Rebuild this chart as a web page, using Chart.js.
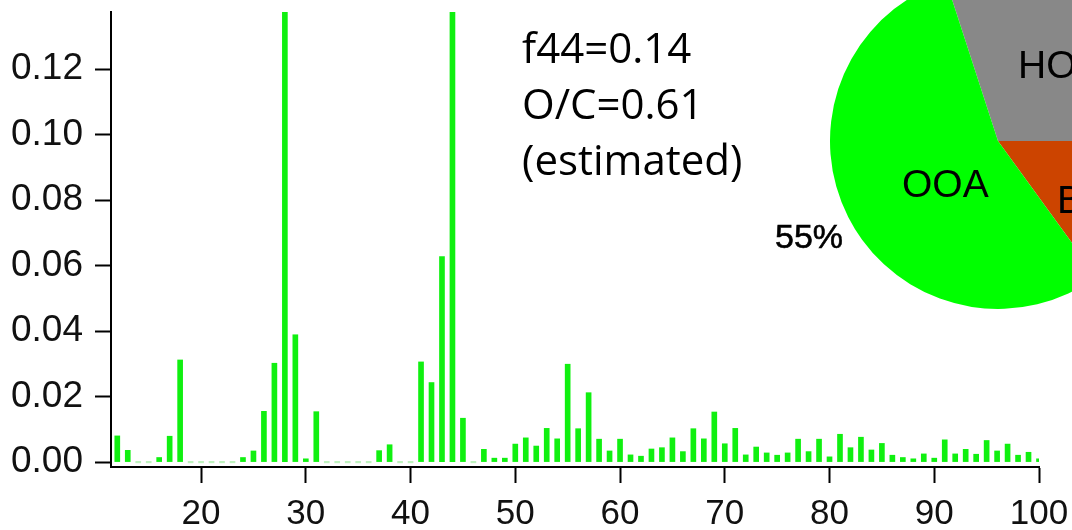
<!DOCTYPE html>
<html>
<head>
<meta charset="utf-8">
<script src="https://cdn.jsdelivr.net/npm/chart.js@4.4.1/dist/chart.umd.min.js"></script>
<style>
  html, body { margin: 0; padding: 0; overflow: hidden; background: #fff; }
  body { width: 1072px; height: 530px; position: relative; }
  #msChart { position: absolute; left: 0; top: 0; }
  #pieChart { position: absolute; left: 830px; top: -27px; }
  .lbl { position: absolute; white-space: nowrap; color: #000; font-family: "Liberation Sans", Arial, sans-serif; }
  #note { position: absolute; left: 522px; top: 19px; font-family: "Open Sans", sans-serif; font-size: 42px; line-height: 56px; color: #000; }
</style>
</head>
<body>
<canvas id="msChart" width="1072" height="530"></canvas>
<canvas id="pieChart" width="336" height="336"></canvas>

<div id="note">f44=0.14<br>O/C=0.61<br>(estimated)</div>
<div class="lbl" style="left:1018px; top:45px; font-size:39px; line-height:39px;">HOA</div>
<div class="lbl" style="left:902px; top:164px; font-size:39px; line-height:39px;">OOA</div>
<div class="lbl" style="left:1057px; top:180px; font-size:39px; line-height:39px;">BBOA</div>
<div class="lbl" style="left:775px; top:219px; font-size:34px; line-height:34px; -webkit-text-stroke:0.6px #000;">55%</div>

<script>
// m/z of each bar
const mzValues = [12, 13, 14, 15, 16, 17, 18, 19, 20, 21, 22, 23, 24, 25, 26, 27, 28, 29, 30,
  31, 32, 33, 34, 35, 36, 37, 38, 39, 40, 41, 42, 43, 44, 45, 46, 47, 48, 49, 50,
  51, 52, 53, 54, 55, 56, 57, 58, 59, 60, 61, 62, 63, 64, 65, 66, 67, 68, 69, 70,
  71, 72, 73, 74, 75, 76, 77, 78, 79, 80, 81, 82, 83, 84, 85, 86, 87, 88, 89, 90,
  91, 92, 93, 94, 95, 96, 97, 98, 99, 100];

// fraction of signal at each m/z (28 and 44 run off the top)
const fractions = [0.0080, 0.0036, 0, 0, 0.0014, 0.0079, 0.0312, 0, 0, 0, 0, 0, 0.0014, 0.0034, 0.0155, 0.0302, 0.14, 0.0389, 0.0010,
  0.0154, 0, 0, 0, 0, 0, 0.0035, 0.0053, 0, 0, 0.0306, 0.0243, 0.0628, 0.14, 0.0134, 0, 0.0039, 0.0012, 0.0012, 0.0055,
  0.0074, 0.0049, 0.0103, 0.0071, 0.0299, 0.0102, 0.0212, 0.0070, 0.0034, 0.0070, 0.0022, 0.0018, 0.0040, 0.0044, 0.0074, 0.0032, 0.0102, 0.0071, 0.0153, 0.0056,
  0.0103, 0.0022, 0.0046, 0.0028, 0.0021, 0.0028, 0.0070, 0.0032, 0.0070, 0.0016, 0.0085, 0.0044, 0.0076, 0.0037, 0.0057, 0.0021, 0.0014, 0.0010, 0.0025, 0.0012,
  0.0068, 0.0025, 0.0039, 0.0024, 0.0066, 0.0034, 0.0055, 0.0021, 0.0030, 0.0010];

const yTicks = [0, 0.02, 0.04, 0.06, 0.08, 0.10, 0.12];
const xTicks = [20, 30, 40, 50, 60, 70, 80, 90, 100];

// factor pie
const factorNames = ['HOA', 'BBOA', 'OOA'];
const factorShares = [30, 15, 55];

const fontFamily = '"Liberation Sans", Arial, sans-serif';

new Chart(document.getElementById('msChart'), {
  type: 'bar',
  data: {
    datasets: [{
      data: mzValues.map((m, i) => ({ x: m, y: fractions[i] })),
      backgroundColor: fractions.map(v => v === 0 ? '#bff3bf' : '#10f010'),
      borderWidth: 0,
      barThickness: 5,
      minBarLength: 1.5
    }]
  },
  options: {
    responsive: false,
    animation: false,
    layout: { padding: { left: 0, right: 33, top: 12, bottom: 0 } },
    plugins: { legend: { display: false }, tooltip: { enabled: false } },
    scales: {
      x: {
        type: 'linear',
        min: 11.4,
        max: 100,
        offset: false,
        afterBuildTicks: s => { s.ticks = xTicks.map(v => ({ value: v })); },
        afterFit: s => { s.height = 63; s.paddingLeft = 0; s.paddingRight = 0; },
        ticks: { font: { family: fontFamily, size: 35 }, color: '#111', padding: 10, maxRotation: 0, autoSkip: false },
        grid: { offset: false, drawOnChartArea: false, tickLength: 16, tickColor: '#000', tickWidth: 2 },
        border: { color: '#000', width: 2 }
      },
      y: {
        min: -0.0015,
        max: 0.1375,
        afterBuildTicks: s => { s.ticks = yTicks.map(v => ({ value: v })); },
        afterFit: s => { s.width = 111; s.paddingTop = 0; s.paddingBottom = 0; },
        ticks: { font: { family: fontFamily, size: 37 }, color: '#111', padding: 12, callback: v => v.toFixed(2) },
        grid: { drawOnChartArea: false, tickLength: 16, tickColor: '#000', tickWidth: 2 },
        border: { color: '#000', width: 2 }
      }
    }
  }
});

new Chart(document.getElementById('pieChart'), {
  type: 'pie',
  data: {
    labels: factorNames,
    datasets: [{
      data: factorShares,
      backgroundColor: ['#888888', '#cc4400', '#00ff00'],
      borderWidth: 0
    }]
  },
  options: {
    responsive: false,
    animation: false,
    rotation: -18,
    layout: { padding: 0 },
    plugins: { legend: { display: false }, tooltip: { enabled: false } }
  }
});
</script>
</body>
</html>
